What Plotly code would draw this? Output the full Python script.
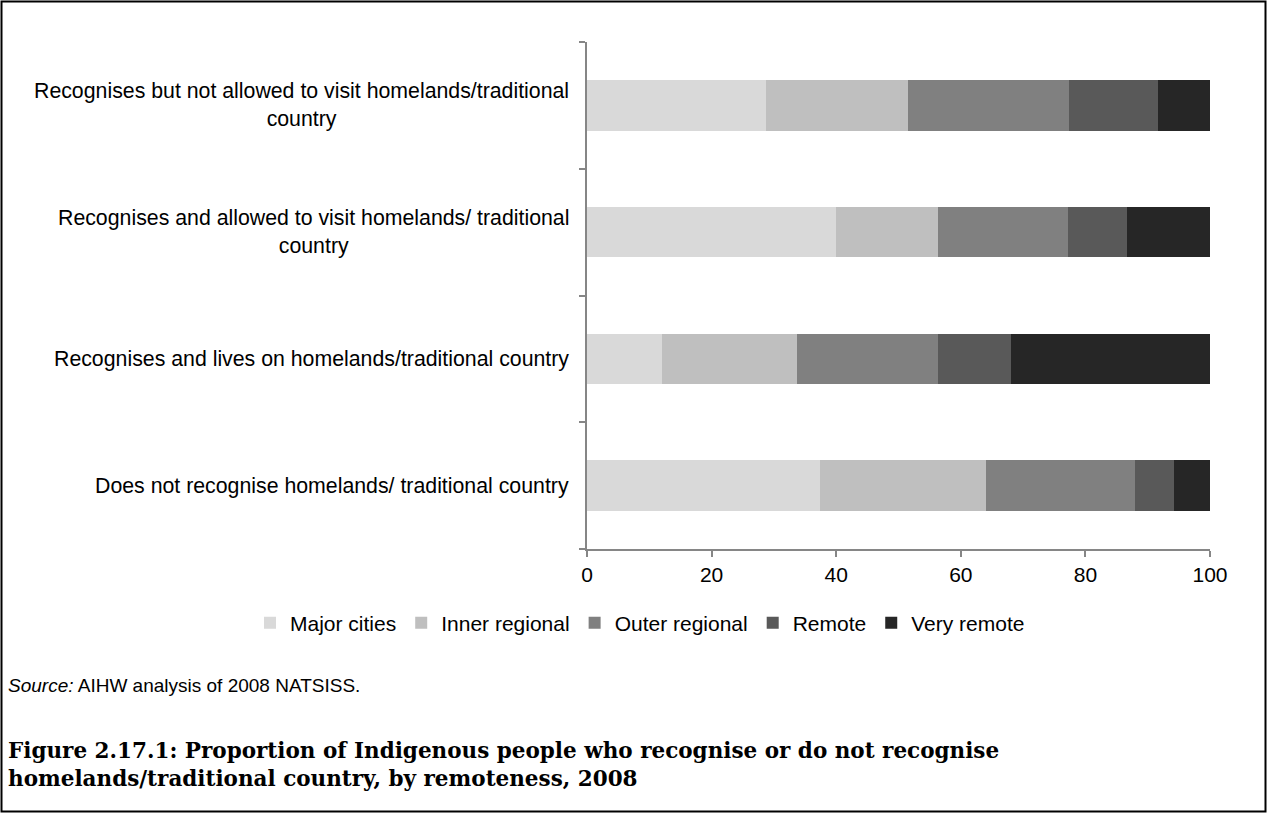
import plotly.graph_objects as go

categories = [
    "Recognises but not allowed to visit homelands/traditional<br>country",
    "Recognises and allowed to visit homelands/ traditional<br>country",
    "Recognises and lives on homelands/traditional country",
    "Does not recognise homelands/ traditional country",
]
series_names = ["Major cities", "Inner regional", "Outer regional", "Remote", "Very remote"]
major_cities = [28.7, 39.9, 12.1, 37.4]
inner_regional = [22.9, 16.4, 21.6, 26.6]
outer_regional = [25.8, 20.9, 22.6, 24.0]
remote = [14.3, 9.4, 11.8, 6.2]
very_remote = [8.3, 13.4, 31.9, 5.8]
x_ticks = [0, 20, 40, 60, 80, 100]

colors = ["#d9d9d9", "#bfbfbf", "#808080", "#595959", "#262626"]
values = [major_cities, inner_regional, outer_regional, remote, very_remote]

W, H = 1267, 813
L, R, T, B = 587, 57, 42, 264
pw, ph = W - L - R, H - T - B

def px_x(x):
    return (x - L) / pw

def px_y(y):
    return (H - B - y) / ph

fig = go.Figure()
for name, vals, col in zip(series_names, values, colors):
    fig.add_trace(go.Bar(
        y=categories, x=vals, name=name, orientation="h",
        marker=dict(color=col, line=dict(width=0)),
    ))

font_sans = "Liberation Sans, Arial, sans-serif"

annotations = []
for c in categories:
    annotations.append(dict(
        x=px_x(571), xref="paper", y=c, yref="y", text=c,
        xanchor="right", yanchor="middle", align="center", showarrow=False,
        font=dict(family=font_sans, size=21.3, color="#000000"),
    ))
annotations.append(dict(
    x=px_x(6), xref="paper", y=px_y(685), yref="paper",
    text="<i>Source:</i> AIHW analysis of 2008 NATSISS.",
    xanchor="left", yanchor="middle", align="left", showarrow=False,
    font=dict(family=font_sans, size=19, color="#000000"),
))
annotations.append(dict(
    x=px_x(6), xref="paper", y=px_y(764), yref="paper",
    text="<b>Figure 2.17.1: Proportion of Indigenous people who recognise or do not recognise<br>homelands/traditional country, by remoteness, 2008</b>",
    xanchor="left", yanchor="middle", align="left", showarrow=False,
    font=dict(family="DejaVu Serif, serif", size=21.5, color="#000000"),
))

fig.update_layout(
    width=W, height=H,
    margin=dict(l=L, r=R, t=T, b=B, pad=0),
    barmode="stack", bargap=0.6,
    plot_bgcolor="#ffffff", paper_bgcolor="#ffffff",
    showlegend=True,
    legend=dict(
        orientation="h", x=px_x(250), xanchor="left", y=px_y(623), yanchor="middle",
        font=dict(family=font_sans, size=21, color="#000000"),
        traceorder="normal", itemwidth=30, tracegroupgap=0,
    ),
    xaxis=dict(
        range=[0, 100], tickvals=x_ticks, ticktext=[str(v) for v in x_ticks],
        showgrid=False, zeroline=False, showline=True, linecolor="#868686", linewidth=1.5,
        ticks="outside", ticklen=6, tickcolor="#868686", tickwidth=1.5,
        tickfont=dict(family=font_sans, size=21, color="#000000"),
        fixedrange=True,
    ),
    yaxis=dict(
        categoryorder="array", categoryarray=categories[::-1],
        showticklabels=False, showgrid=False, zeroline=False,
        showline=True, linecolor="#868686", linewidth=1.5,
        ticks="outside", ticklen=6, tickcolor="#868686", tickwidth=1.5,
        tickson="boundaries", fixedrange=True,
    ),
    annotations=annotations,
    shapes=[dict(
        type="rect", xref="paper", yref="paper",
        x0=px_x(1.5), x1=px_x(1265.5), y0=px_y(811.5), y1=px_y(1.5),
        line=dict(color="#000000", width=2), fillcolor="rgba(0,0,0,0)", layer="below",
    )],
)

fig.write_html(
    "out.html",
    config={"displayModeBar": False},
    post_script="document.body.style.margin='0';document.body.style.overflow='hidden';",
)
